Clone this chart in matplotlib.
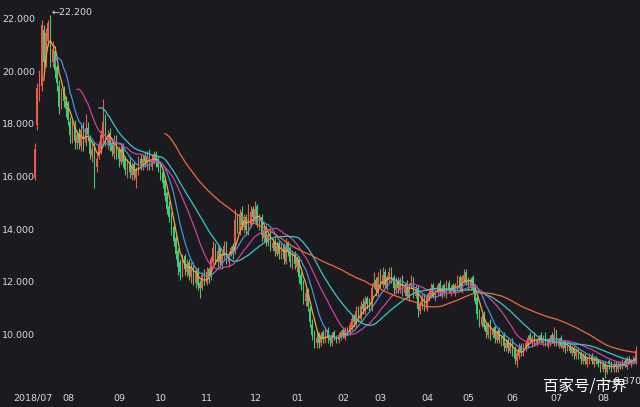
import numpy as np
import pandas as pd
import matplotlib
matplotlib.use("Agg")
import matplotlib.pyplot as plt
import matplotlib.transforms as mtransforms

# daily candles, July 2018 -> mid Aug 2019
opens = [
    16.0, 18.0, 19.1, 19.5, 21.6, 20.5, 21.2, 21.8, 20.4, 20.8,
    20.2, 19.5, 18.8, 19.3, 18.9, 18.7, 18.1, 17.5, 18.0, 17.3,
    17.7, 17.2, 17.9, 17.3, 17.9, 17.5, 16.8, 17.2, 16.4, 16.8,
    17.1, 17.5, 18.2, 17.3, 17.7, 17.3, 16.9, 17.5, 17.0, 16.6,
    17.2, 16.7, 16.2, 16.6, 16.1, 16.5, 16.0, 16.3, 16.7, 16.4,
    16.8, 16.5, 16.9, 16.4, 16.6, 16.9, 16.7, 16.5, 16.2, 15.9,
    15.4, 14.9, 14.6, 14.1, 13.7, 13.2, 12.8, 12.3, 13.0, 12.4,
    12.8, 12.2, 12.7, 12.0, 12.5, 12.0, 11.8, 12.4, 12.0, 12.5,
    12.2, 12.8, 13.4, 12.8, 13.3, 12.7, 13.0, 13.5, 12.8, 13.1,
    13.4, 13.2, 14.5, 14.0, 14.7, 14.1, 14.5, 13.9, 14.2, 14.8,
    14.4, 14.9, 14.1, 14.5, 13.7, 14.1, 13.5, 13.9, 13.3, 13.6,
    13.1, 13.5, 13.0, 13.4, 12.8, 13.5, 13.3, 12.7, 13.1, 12.6,
    12.9, 12.3, 12.0, 11.3, 11.7, 11.0, 10.4, 10.1, 9.7, 10.0,
    9.7, 10.1, 9.8, 10.2, 9.9, 9.7, 10.1, 9.9, 9.8, 9.9,
    10.2, 9.9, 10.2, 10.1, 10.3, 10.7, 10.4, 11.0, 10.6, 11.2,
    10.9, 11.4, 11.3, 11.0, 11.9, 12.1, 11.6, 12.3, 11.9, 12.4,
    11.8, 12.1, 12.5, 12.2, 11.7, 12.1, 11.7, 12.2, 11.6, 12.0,
    11.4, 11.9, 12.1, 11.5, 11.8, 10.9, 11.1, 11.5, 11.0, 11.4,
    11.5, 11.9, 11.4, 11.6, 12.0, 11.5, 11.9, 11.5, 12.0, 11.6,
    11.9, 11.6, 11.8, 12.2, 11.7, 12.1, 12.4, 12.1, 11.8, 12.2,
    11.8, 11.4, 10.9, 10.4, 10.8, 10.4, 10.0, 10.5, 10.0, 10.3,
    9.8, 10.2, 9.7, 10.0, 9.5, 9.8, 9.4, 9.8, 9.5, 9.0,
    9.2, 9.6, 9.3, 9.5, 9.6, 10.0, 9.7, 10.0, 9.7, 9.8,
    10.0, 9.7, 10.0, 9.6, 9.7, 10.0, 9.7, 10.2, 9.6, 9.9,
    9.5, 9.7, 9.5, 9.6, 9.3, 9.5, 9.2, 9.4, 9.3, 9.0,
    9.2, 8.9, 9.0, 9.2, 8.9, 9.1, 9.0, 8.9, 8.7, 8.9,
    8.6, 9.0, 8.9, 8.7, 8.9, 8.7, 8.9, 8.8, 9.0, 8.8,
    9.1, 8.9, 9.0, 9.0,
]
closes = [
    17.1, 19.4, 19.8, 21.8, 20.4, 21.5, 21.9, 20.5, 20.9, 20.1,
    19.6, 18.7, 19.2, 18.9, 18.6, 18.2, 17.6, 17.9, 17.4, 17.6,
    17.3, 17.8, 17.2, 17.9, 17.6, 16.9, 17.1, 16.5, 16.7, 17.2,
    17.6, 18.1, 17.4, 17.6, 17.2, 17.0, 17.4, 16.9, 16.7, 17.1,
    16.6, 16.3, 16.5, 16.2, 16.4, 16.1, 16.3, 16.6, 16.5, 16.7,
    16.6, 16.8, 16.5, 16.7, 16.9, 16.6, 16.4, 16.1, 15.8, 15.3,
    14.8, 14.5, 14.0, 13.6, 13.1, 12.6, 12.4, 12.9, 12.5, 12.7,
    12.3, 12.6, 12.1, 12.4, 11.9, 11.8, 12.3, 12.1, 12.4, 12.2,
    12.9, 13.3, 12.9, 13.2, 12.8, 13.1, 13.4, 12.9, 13.0, 13.3,
    13.2, 14.4, 14.1, 14.6, 14.2, 14.4, 14.0, 14.3, 14.7, 14.5,
    14.8, 14.2, 14.4, 13.8, 14.0, 13.6, 13.8, 13.4, 13.5, 13.2,
    13.4, 13.1, 13.3, 12.9, 13.4, 13.2, 12.8, 13.0, 12.7, 12.9,
    12.2, 11.9, 11.4, 11.6, 11.1, 10.5, 10.0, 9.8, 9.9, 9.7,
    10.0, 9.9, 10.1, 9.9, 9.8, 10.0, 9.9, 9.8, 10.0, 10.1,
    10.0, 10.2, 10.1, 10.4, 10.6, 10.5, 10.9, 10.7, 11.1, 11.0,
    11.3, 11.2, 11.0, 11.8, 12.0, 11.7, 12.2, 12.0, 12.3, 11.9,
    12.2, 12.4, 12.1, 11.8, 12.0, 11.8, 12.1, 11.7, 11.9, 11.5,
    11.8, 12.0, 11.6, 11.7, 11.0, 11.2, 11.4, 11.1, 11.5, 11.6,
    11.8, 11.5, 11.7, 11.9, 11.6, 11.8, 11.6, 11.9, 11.7, 11.8,
    11.7, 11.9, 12.1, 11.8, 12.2, 12.3, 12.0, 11.9, 12.1, 11.7,
    11.3, 10.8, 10.5, 10.7, 10.3, 10.1, 10.4, 10.0, 10.2, 9.9,
    10.1, 9.8, 9.9, 9.6, 9.7, 9.5, 9.7, 9.4, 9.1, 9.3,
    9.5, 9.4, 9.6, 9.7, 9.9, 9.8, 9.9, 9.7, 9.8, 9.9,
    9.8, 9.9, 9.7, 9.8, 9.9, 9.8, 10.0, 9.7, 9.8, 9.6,
    9.7, 9.5, 9.6, 9.4, 9.5, 9.3, 9.4, 9.2, 9.1, 9.2,
    9.0, 9.1, 9.2, 9.0, 9.1, 9.0, 8.9, 8.8, 8.9, 8.7,
    8.8, 8.9, 8.7, 8.9, 8.8, 8.9, 8.8, 9.0, 8.9, 9.1,
    9.0, 9.0, 9.1, 9.4,
]
highs = [
    17.3, 19.6, 20.1, 22.0, 21.8, 21.7, 22.0, 22.2, 21.2, 21.0,
    20.3, 19.7, 19.4, 19.5, 19.1, 18.9, 18.3, 18.2, 18.2, 17.8,
    17.9, 18.0, 18.1, 18.4, 18.1, 17.6, 17.3, 17.3, 16.9, 17.4,
    17.8, 19.0, 18.4, 17.8, 17.9, 17.5, 17.6, 17.6, 17.2, 17.3,
    17.3, 16.8, 16.7, 16.8, 16.6, 16.6, 16.4, 16.8, 16.9, 16.9,
    17.0, 17.0, 17.1, 16.9, 17.0, 17.0, 16.8, 16.6, 16.3, 16.0,
    15.5, 15.1, 14.7, 14.3, 13.8, 13.3, 12.9, 13.1, 13.1, 12.9,
    12.9, 12.8, 12.8, 12.6, 12.6, 12.1, 12.4, 12.5, 12.6, 12.6,
    13.0, 13.6, 13.5, 13.4, 13.4, 13.2, 13.6, 13.6, 13.2, 13.4,
    13.5, 14.8, 14.6, 14.8, 14.9, 14.6, 14.6, 15.0, 14.9, 14.9,
    15.1, 15.0, 14.6, 14.6, 14.2, 14.2, 13.9, 14.0, 13.7, 13.7,
    13.6, 13.6, 13.5, 13.5, 13.7, 13.6, 13.4, 13.2, 13.2, 13.0,
    13.0, 12.4, 12.1, 11.8, 11.8, 11.1, 10.6, 10.2, 10.1, 10.1,
    10.1, 10.2, 10.3, 10.3, 10.0, 10.1, 10.2, 10.0, 10.1, 10.2,
    10.3, 10.3, 10.3, 10.5, 10.8, 10.8, 11.1, 11.1, 11.3, 11.4,
    11.5, 11.5, 11.4, 12.0, 12.4, 12.2, 12.4, 12.5, 12.6, 12.5,
    12.3, 12.6, 12.6, 12.3, 12.2, 12.2, 12.2, 12.3, 12.0, 12.1,
    12.0, 12.3, 12.2, 11.9, 11.9, 11.3, 11.6, 11.6, 11.6, 11.7,
    12.0, 12.0, 11.8, 12.0, 12.1, 11.9, 12.0, 12.1, 12.1, 11.9,
    12.0, 12.0, 12.3, 12.3, 12.3, 12.5, 12.5, 12.2, 12.2, 12.3,
    11.9, 11.5, 11.0, 10.8, 10.9, 10.5, 10.5, 10.6, 10.3, 10.4,
    10.2, 10.3, 10.0, 10.1, 9.8, 9.9, 9.8, 9.9, 9.6, 9.4,
    9.7, 9.7, 9.7, 9.8, 10.0, 10.1, 10.0, 10.1, 9.9, 10.0,
    10.1, 10.0, 10.1, 9.9, 10.0, 10.1, 10.3, 10.2, 9.9, 10.0,
    9.8, 9.8, 9.7, 9.7, 9.6, 9.6, 9.5, 9.5, 9.4, 9.3,
    9.3, 9.2, 9.3, 9.3, 9.2, 9.2, 9.1, 9.0, 9.0, 9.0,
    8.9, 9.1, 9.0, 9.0, 9.0, 9.0, 9.0, 9.1, 9.1, 9.2,
    9.2, 9.1, 9.2, 9.6,
]
lows = [
    15.9, 17.8, 18.9, 19.3, 20.1, 20.2, 21.0, 20.2, 20.2, 19.8,
    19.3, 18.4, 18.6, 18.7, 18.3, 18.0, 17.3, 17.3, 17.1, 17.1,
    17.1, 17.0, 17.0, 17.2, 17.4, 16.7, 16.6, 15.6, 16.2, 16.7,
    16.9, 17.3, 17.2, 17.1, 17.0, 16.8, 16.7, 16.7, 16.4, 16.5,
    16.4, 16.1, 16.0, 16.0, 15.9, 15.9, 15.6, 16.1, 16.3, 16.3,
    16.4, 16.3, 16.3, 16.3, 16.5, 16.4, 16.2, 15.9, 15.6, 15.1,
    14.6, 14.3, 13.8, 13.4, 12.9, 12.3, 12.1, 12.2, 12.3, 12.2,
    12.1, 12.0, 11.9, 11.8, 11.7, 11.4, 11.7, 11.9, 11.9, 12.0,
    12.1, 12.7, 12.7, 12.6, 12.6, 12.5, 12.9, 12.7, 12.6, 13.0,
    12.9, 13.1, 13.9, 13.8, 14.0, 13.9, 13.8, 13.8, 14.1, 14.3,
    14.3, 14.1, 14.0, 13.6, 13.5, 13.4, 13.4, 13.2, 13.2, 13.0,
    13.0, 12.9, 12.9, 12.7, 12.7, 13.0, 12.6, 12.5, 12.5, 12.4,
    12.0, 11.7, 11.2, 11.1, 10.9, 10.3, 9.8, 9.5, 9.5, 9.5,
    9.6, 9.7, 9.7, 9.7, 9.6, 9.6, 9.8, 9.7, 9.7, 9.8,
    9.9, 9.8, 10.0, 10.0, 10.2, 10.3, 10.3, 10.5, 10.5, 10.8,
    10.8, 11.0, 10.9, 10.9, 11.8, 11.5, 11.5, 11.8, 11.8, 11.8,
    11.7, 12.0, 12.0, 11.6, 11.6, 11.6, 11.6, 11.5, 11.5, 11.4,
    11.3, 11.8, 11.4, 11.4, 10.7, 10.8, 11.0, 10.9, 10.9, 11.3,
    11.4, 11.4, 11.3, 11.5, 11.5, 11.4, 11.5, 11.4, 11.6, 11.5,
    11.6, 11.5, 11.7, 11.7, 11.6, 12.0, 11.9, 11.7, 11.7, 11.6,
    11.2, 10.6, 10.3, 10.3, 10.2, 9.9, 9.9, 9.8, 9.9, 9.7,
    9.7, 9.7, 9.6, 9.4, 9.4, 9.3, 9.3, 9.2, 8.9, 8.8,
    9.1, 9.2, 9.2, 9.4, 9.5, 9.7, 9.6, 9.6, 9.6, 9.7,
    9.7, 9.6, 9.6, 9.5, 9.6, 9.7, 9.6, 9.6, 9.5, 9.5,
    9.4, 9.3, 9.4, 9.3, 9.2, 9.1, 9.1, 9.1, 8.9, 8.9,
    8.9, 8.8, 8.9, 8.9, 8.8, 8.9, 8.8, 8.6, 8.6, 8.37,
    8.5, 8.7, 8.6, 8.6, 8.6, 8.6, 8.7, 8.7, 8.8, 8.7,
    8.9, 8.8, 8.9, 8.9,
]

month_labels = ["2018/07", "08", "09", "10", "11", "12", "01", "02",
                "03", "04", "05", "06", "07", "08"]
month_days = [16, 23, 19, 21, 22, 19, 21, 17, 21, 19, 20, 20, 21, 15]

ma_windows = [5, 10, 20, 30, 60]
ma_colors = ["#f2a43a", "#4b8fe0", "#c8449c", "#3cc4cf", "#ee6a3a"]

up_color = "#ec5b4b"
down_color = "#3fcc7a"
bg = "#1b1b1f"
txt = "#dcdcdc"

df = pd.DataFrame({"open": opens, "high": highs, "low": lows, "close": closes})
x = np.arange(len(df))

fig = plt.figure(figsize=(6.4, 4.07), dpi=100, facecolor=bg)
ax = fig.add_axes([0, 0, 1, 1], facecolor=bg)

up = df["close"] >= df["open"]
colors = np.where(up, up_color, down_color)

ax.vlines(x, df["low"], df["high"], colors=colors, linewidth=0.8, zorder=2)
ax.bar(x, df["close"] - df["open"], bottom=df["open"], width=0.65,
       color=colors, linewidth=0, zorder=3)

for w, c in zip(ma_windows, ma_colors):
    ma = df["close"].rolling(w).mean()
    ax.plot(x, ma, color=c, linewidth=0.9, zorder=4)

ax.set_xlim(-15.9, 275)
ax.set_ylim(7.26, 22.76)
ax.axis("off")

# y labels on the left
for v in [10, 12, 14, 16, 18, 20, 22]:
    ax.text(-15.0, v, f"{v:.3f}", color=txt, fontsize=6.8,
            ha="left", va="center", zorder=5)

# month labels along the bottom
trans = mtransforms.blended_transform_factory(ax.transData, ax.transAxes)
starts = np.concatenate([[0], np.cumsum(month_days)[:-1]])
for s, lab in zip(starts, month_labels):
    ax.text(s - 0.8, 0.021, lab, transform=trans, color=txt, fontsize=6.8,
            ha="center", va="center", zorder=5)

# max / min markers
imax = int(np.argmax(highs))
imin = int(np.argmin(lows))
ax.text(imax + 0.6, highs[imax] + 0.1, "\u2190" + f"{highs[imax]:.3f}", color=txt,
        fontsize=6.8, ha="left", va="center", zorder=5)
ax.text(imin + 0.6, lows[imin] - 0.15, "\u2190" + f"{lows[imin]:.3f}", color=txt,
        fontsize=6.8, ha="left", va="center", zorder=5)

# watermark
ax.text(0.848, 0.049, "百家号/市界", transform=ax.transAxes, color="white",
        fontsize=11.2, ha="left", va="center", zorder=6,
        family=["Noto Sans CJK SC", "DejaVu Sans"])

fig.savefig("out.png", dpi=100, facecolor=bg)
